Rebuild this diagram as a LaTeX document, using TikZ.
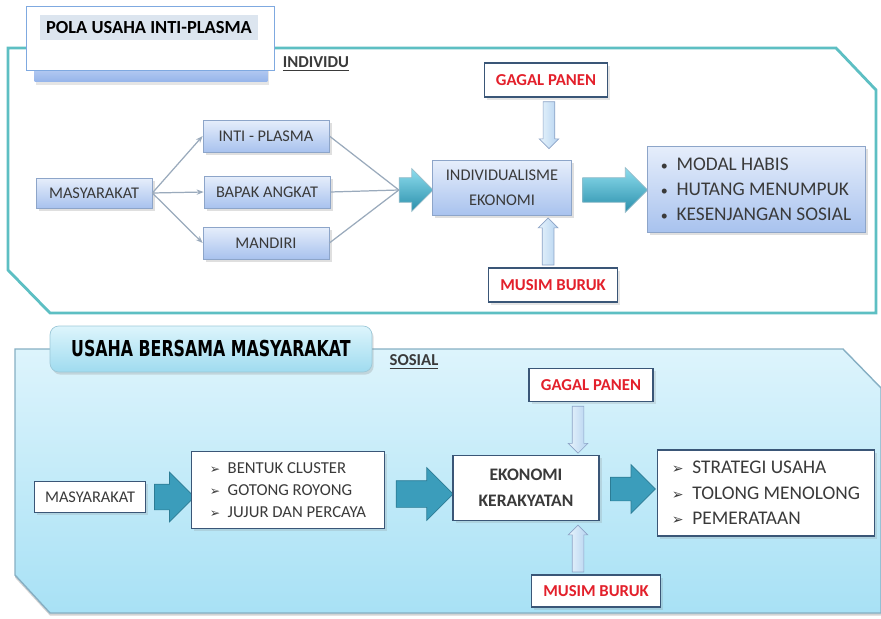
\documentclass[tikz,border=0pt]{standalone}
\usepackage{fontspec}
\usepackage{graphicx}
\setmainfont{Carlito}
\newfontfamily\dingfont{DejaVu Sans}
\newfontfamily\tabfont{DejaVu Sans}
\usetikzlibrary{shapes.arrows, arrows.meta, positioning, calc, shadows}

\definecolor{panelteal}{HTML}{5DBFC3}
\definecolor{panelgray}{HTML}{86AFC3}
\definecolor{skytop}{HTML}{DDF4FC}
\definecolor{skybot}{HTML}{A8E1F5}
\definecolor{boxtop}{HTML}{E6EEFB}
\definecolor{boxbot}{HTML}{A8C2EE}
\definecolor{boxedge}{HTML}{8DA5C9}
\definecolor{textgray}{HTML}{3A3A3A}
\definecolor{warnred}{HTML}{E3202B}
\definecolor{navyedge}{HTML}{3A5677}
\definecolor{tealtop}{HTML}{8EDDEE}
\definecolor{tealbot}{HTML}{2A8FAB}
\definecolor{tealflat}{HTML}{3B9DBB}
\definecolor{tealedge}{HTML}{2C7C95}
\definecolor{hollowtop}{HTML}{E8F4FC}
\definecolor{hollowbot}{HTML}{B5D3F0}
\definecolor{hollowedge}{HTML}{8CA3C6}
\definecolor{linegray}{HTML}{9AAABC}
\definecolor{titleblue}{HTML}{7FA9E0}
\definecolor{titlehi}{HTML}{DCE5EF}
\definecolor{bartop}{HTML}{CFDDF8}
\definecolor{barbot}{HTML}{95B4EA}
\definecolor{tabtop}{HTML}{DDF5FC}
\definecolor{tabbot}{HTML}{9FDBEF}
\definecolor{tabedge}{HTML}{9CC8D8}

\begin{document}
\begin{tikzpicture}[
    x=0.02cm, y=-0.02cm,
    bluebox/.style={rectangle, draw=boxedge, top color=boxtop, bottom color=boxbot, text=textgray,
        font=\fontsize{9.3}{11}\selectfont, minimum height=0.64cm, inner sep=2pt,
        drop shadow={opacity=0.25, shadow xshift=1.5pt, shadow yshift=-1.5pt}},
    whitebox/.style={rectangle, draw=navyedge, line width=1pt, fill=white, text=textgray,
        minimum height=0.62cm, inner sep=2pt,
        drop shadow={opacity=0.2, shadow xshift=1.5pt, shadow yshift=-1.5pt}},
    warnbox/.style={whitebox, text=warnred, font=\fontsize{9.5}{11}\selectfont\bfseries, minimum height=0.68cm},
    thickarrow/.style={single arrow, inner xsep=0pt, draw=tealedge!50, top color=tealtop, bottom color=tealbot},
    flatarrow/.style={single arrow, inner xsep=0pt, draw=tealedge, fill=tealflat},
    hollowarrow/.style={single arrow, single arrow head extend=0.08cm, inner sep=0.11cm,
        minimum height=0.94cm, draw=hollowedge, left color=hollowtop, right color=hollowbot},
    link/.style={draw=linegray, line width=0.7pt, -{Stealth[length=4pt,width=3pt]}},
    plainlink/.style={draw=linegray, line width=0.7pt}
]
\useasboundingbox (0,0) rectangle (881,618);

\draw[draw=panelteal, line width=1.6pt, fill=white] (8,48) -- (836,48) -- (876,90) -- (876,313) -- (50,313) -- (8,270) -- cycle;
\node[top color=bartop, bottom color=barbot, minimum width=4.66cm, minimum height=0.48cm,
    drop shadow={opacity=0.2, shadow xshift=1pt, shadow yshift=-1.5pt}] (titlebar) at (151,70) {};
\node[draw=titleblue, fill=white, minimum width=4.96cm, minimum height=1.28cm] (titlebox) at (150,38) {};
\node[fill=titlehi, minimum width=4.36cm, minimum height=0.5cm, font=\fontsize{10.5}{12}\selectfont\bfseries] (titletext) at (149,28) {POLA USAHA INTI-PLASMA};
\node[font=\fontsize{9.5}{11}\selectfont\bfseries, text=textgray] (indlabel) at (316,64) {\underline{INDIVIDU}};

\node[bluebox, minimum width=2.32cm, minimum height=0.6cm] (masy1) at (94,193) {MASYARAKAT};
\node[bluebox, minimum width=2.52cm] (inti) at (266,136) {INTI - PLASMA};
\node[bluebox, minimum width=2.52cm] (bapak) at (267,192) {BAPAK ANGKAT};
\node[bluebox, minimum width=2.52cm] (mandiri) at (266,243) {MANDIRI};
\node[thickarrow, inner ysep=0.24cm, single arrow head extend=0.18cm, minimum height=0.68cm] (tarr1) at (410,190) {};
\node[bluebox, minimum width=2.78cm, minimum height=1.1cm, align=center, font=\fontsize{9.3}{14}\selectfont] (indiv) at (502,188) {INDIVIDUALISME\\EKONOMI};
\node[thickarrow, inner ysep=0.24cm, single arrow head extend=0.2cm, minimum height=1.3cm] (tarr2) at (609,190) {};
\node[bluebox, minimum width=4.36cm, minimum height=1.72cm, align=left, font=\fontsize{11}{14.2}\selectfont] (akibat) at (756,189)
    {{\fontsize{8}{8}\selectfont\textbullet}~~MODAL HABIS\\{\fontsize{8}{8}\selectfont\textbullet}~~HUTANG MENUMPUK\\{\fontsize{8}{8}\selectfont\textbullet}~~KESENJANGAN SOSIAL};
\node[warnbox, minimum width=2.46cm] (gagal1) at (546,80) {GAGAL PANEN};
\node[warnbox, minimum width=2.58cm] (musim1) at (553,285) {MUSIM BURUK};
\node[hollowarrow, shape border rotate=270, anchor=tail] (gagalarr1) at ([xshift=1.7pt,yshift=-2pt]gagal1.south) {};
\node[hollowarrow, shape border rotate=90, anchor=tail] (musimarr1) at ([xshift=-2.8pt,yshift=1pt]musim1.north) {};

\draw[link] (masy1.east) -- (inti.west);
\draw[link] (masy1.east) -- (bapak.west);
\draw[link] (masy1.east) -- (mandiri.west);
\draw[plainlink] (inti.east) -- (tarr1.tail);
\draw[plainlink] (bapak.east) -- (tarr1.tail);
\draw[plainlink] (mandiri.east) -- (tarr1.tail);

\draw[draw=panelgray, line width=0.8pt, top color=skytop, bottom color=skybot,
    drop shadow={opacity=0.35, shadow xshift=0pt, shadow yshift=-1.5pt}]
    (15,349) -- (843,349) -- (881,388) -- (881,613) -- (50,613) -- (15,575) -- cycle;
\node[draw=tabedge, rounded corners=5pt, top color=tabtop, bottom color=tabbot, minimum width=6.44cm, minimum height=0.92cm,
    drop shadow={opacity=0.25, shadow xshift=1pt, shadow yshift=-1.5pt}] (tabtitle) at (211,349)
    {\scalebox{0.72}[1]{\tabfont\bfseries\fontsize{12.5}{14}\selectfont USAHA BERSAMA MASYARAKAT}};
\node[font=\fontsize{9.5}{11}\selectfont\bfseries, text=textgray] (soslabel) at (414,362) {\underline{SOSIAL}};

\node[whitebox, minimum width=2.22cm, font=\fontsize{9.3}{11}\selectfont] (masy2) at (90,497) {MASYARAKAT};
\node[flatarrow, inner ysep=0.25cm, single arrow head extend=0.24cm, minimum height=0.8cm] (barr1) at (168,497) {};
\node[whitebox, minimum width=3.86cm, minimum height=1.54cm, align=left, font=\fontsize{9.5}{12.5}\selectfont] (nilai) at (288,490)
    {{\dingfont\fontsize{7}{7}\selectfont ➢}~~BENTUK CLUSTER\\{\dingfont\fontsize{7}{7}\selectfont ➢}~~GOTONG ROYONG\\{\dingfont\fontsize{7}{7}\selectfont ➢}~~JUJUR DAN PERCAYA};
\node[flatarrow, inner ysep=0.26cm, single arrow head extend=0.26cm, minimum height=1.14cm] (barr2) at (418,494) {};
\node[whitebox, minimum width=2.92cm, minimum height=1.3cm, align=center, font=\fontsize{10}{15}\selectfont\bfseries] (ekonomi) at (526,488) {EKONOMI\\KERAKYATAN};
\node[flatarrow, inner ysep=0.23cm, single arrow head extend=0.25cm, minimum height=0.9cm] (barr3) at (627,489) {};
\node[whitebox, minimum width=4.34cm, minimum height=1.72cm, align=left, font=\fontsize{11}{14.5}\selectfont] (hasil) at (766,493)
    {{\dingfont\fontsize{8}{8}\selectfont ➢}~~STRATEGI USAHA\\{\dingfont\fontsize{8}{8}\selectfont ➢}~~TOLONG MENOLONG\\{\dingfont\fontsize{8}{8}\selectfont ➢}~~PEMERATAAN};
\node[warnbox, minimum width=2.48cm, minimum height=0.66cm] (gagal2) at (591,385) {GAGAL PANEN};
\node[warnbox, minimum width=2.58cm, minimum height=0.64cm] (musim2) at (596,591) {MUSIM BURUK};
\node[hollowarrow, shape border rotate=270, anchor=tail] (gagalarr2) at ([xshift=-0.26cm,yshift=-2pt]gagal2.south) {};
\node[hollowarrow, shape border rotate=90, anchor=tail] (musimarr2) at ([xshift=-0.36cm,yshift=1pt]musim2.north) {};
\end{tikzpicture}
\end{document}
